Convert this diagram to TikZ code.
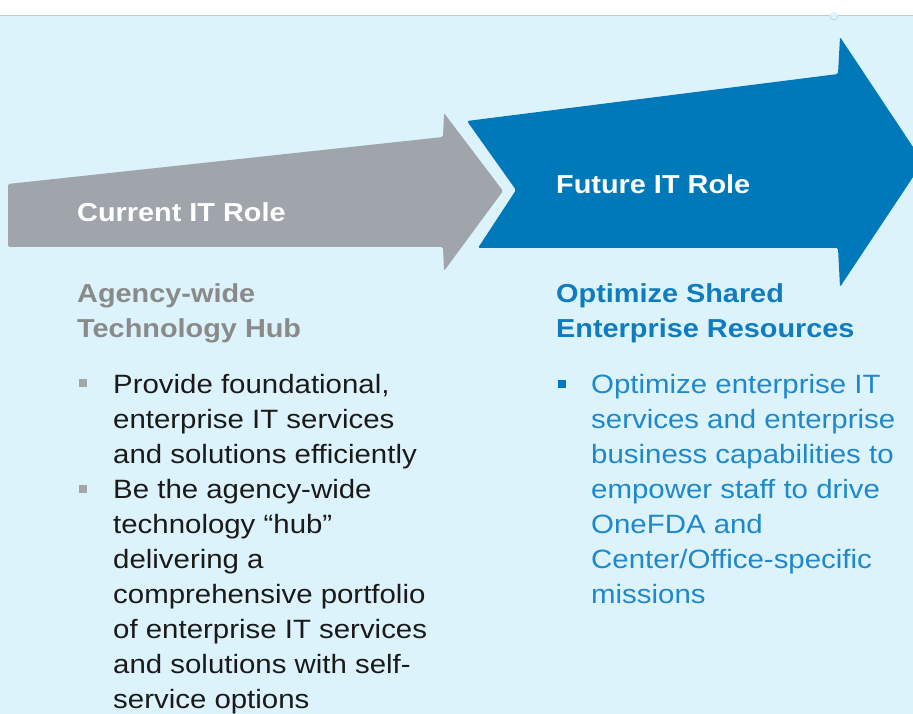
\documentclass[tikz,border=0pt]{standalone}
\usepackage{fontspec}
\setmainfont[FakeStretch=1.11]{Liberation Sans}
\definecolor{bgblue}{HTML}{DDF3FB}
\definecolor{linegray}{HTML}{B9CDD5}
\definecolor{arrowgray}{HTML}{A0A5AC}
\definecolor{arrowblue}{HTML}{0079BA}
\definecolor{headgray}{HTML}{8A8A8A}
\definecolor{headblue}{HTML}{0F7BC0}
\definecolor{bodyblue}{HTML}{1E88CC}
\definecolor{bodyblack}{HTML}{1A1A1A}
\definecolor{bulgray}{HTML}{A6A6A6}
\definecolor{bulblue}{HTML}{0077C0}
\tikzset{
  title/.style={anchor=base west, inner sep=0, text=white, font=\fontsize{26}{32}\selectfont\bfseries},
  heading/.style={anchor=base west, inner sep=0, font=\fontsize{26}{35}\selectfont\bfseries},
  body/.style={anchor=base west, inner sep=0, font=\fontsize{26.5}{35}\selectfont},
  bul/.style={inner sep=0, minimum size=8pt, draw=none}
}
\begin{document}
\begin{tikzpicture}[x=1pt,y=-1pt]
\useasboundingbox (0,0) rectangle (913,714);
\begin{scope}
\clip (0,0) rectangle (913,714);
\fill[white] (0,0) rectangle (913,16);
\fill[bgblue] (0,16) rectangle (913,714);
\draw[linegray, line width=1pt] (0,16) -- (913,16);
\fill[bgblue] (834,16) circle (4);
\draw[linegray, line width=0.6pt] (830,16) arc (180:0:4);
% gray arrow
\fill[arrowgray, rounded corners=1.5pt] (8,184) -- (443,137) -- (444,113) -- (503,191) -- (444,271) -- (443,247) -- (8,247) -- cycle;
% blue arrow
\fill[arrowblue, rounded corners=1.5pt] (467,121) -- (838,74) -- (840,37) -- (923,162) -- (840,287) -- (838,248) -- (478,248) -- (516,190) -- cycle;
\end{scope}
\node[title] (cur) at (77,222) {Current IT Role};
\node[title] (fut) at (556,194) {Future IT Role};
\node[heading, text=headgray] (hubA) at (77,302) {\parbox[t]{400pt}{\raggedright Agency-wide\\Technology Hub}};
\node[heading, text=headblue] (optA) at (556,302) {\parbox[t]{400pt}{\raggedright Optimize Shared\\Enterprise Resources}};
\node[bul, fill=bulgray] (b1) at (83,383) {};
\node[bul, fill=bulgray] (b2) at (83,489) {};
\node[bul, fill=bulblue] (b3) at (562,384) {};
\node[body, text=bodyblack] (t1) at (113,393) {\parbox[t]{400pt}{\raggedright Provide foundational,\\enterprise IT services\\and solutions efficiently}};
\node[body, text=bodyblack] (t2) at (113,498) {\parbox[t]{400pt}{\raggedright Be the agency-wide\\technology “hub”\\delivering a\\comprehensive portfolio\\of enterprise IT services\\and solutions with self-\\service options}};
\node[body, text=bodyblue] (t3) at (591,393) {\parbox[t]{400pt}{\raggedright Optimize enterprise IT\\services and enterprise\\business capabilities to\\empower staff to drive\\OneFDA and\\Center/Office-specific\\missions}};
\end{tikzpicture}
\end{document}
